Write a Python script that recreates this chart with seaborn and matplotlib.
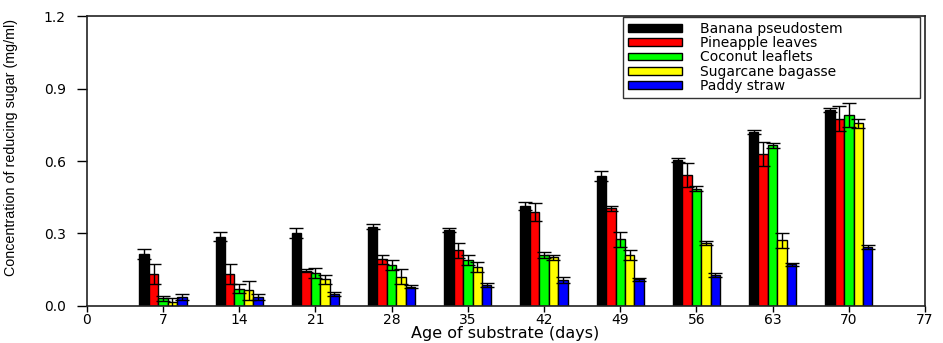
import matplotlib
matplotlib.use("Agg")
import matplotlib.pyplot as plt
import seaborn as sns
import pandas as pd
import numpy as np

days = [7, 14, 21, 28, 35, 42, 49, 56, 63, 70]
substrates = ["Banana pseudostem", "Pineapple leaves", "Coconut leaflets",
              "Sugarcane bagasse", "Paddy straw"]
colors = ["#000000", "#ff0000", "#00ff00", "#ffff00", "#0000ff"]

banana = [0.215, 0.287, 0.303, 0.328, 0.314, 0.414, 0.539, 0.604, 0.720, 0.811]
pineapple = [0.132, 0.132, 0.146, 0.193, 0.230, 0.388, 0.404, 0.543, 0.628, 0.776]
coconut = [0.032, 0.072, 0.136, 0.170, 0.190, 0.210, 0.276, 0.485, 0.665, 0.790]
sugarcane = [0.015, 0.065, 0.110, 0.121, 0.161, 0.201, 0.211, 0.261, 0.272, 0.756]
paddy = [0.037, 0.037, 0.050, 0.080, 0.087, 0.108, 0.110, 0.127, 0.172, 0.244]

banana_err = [0.02, 0.018, 0.02, 0.01, 0.008, 0.018, 0.02, 0.008, 0.01, 0.01]
pineapple_err = [0.04, 0.04, 0.005, 0.02, 0.03, 0.037, 0.01, 0.05, 0.05, 0.05]
coconut_err = [0.011, 0.02, 0.02, 0.02, 0.02, 0.012, 0.03, 0.01, 0.01, 0.05]
sugarcane_err = [0.02, 0.04, 0.02, 0.03, 0.022, 0.011, 0.02, 0.01, 0.03, 0.02]
paddy_err = [0.012, 0.012, 0.008, 0.006, 0.008, 0.011, 0.006, 0.008, 0.006, 0.007]

values = [banana, pineapple, coconut, sugarcane, paddy]
errors = [banana_err, pineapple_err, coconut_err, sugarcane_err, paddy_err]

rows = []
for s, vals in zip(substrates, values):
    for d, v in zip(days, vals):
        rows.append({"day": d, "substrate": s, "value": v})
df = pd.DataFrame(rows)

sns.set_style("ticks")
plt.rcParams["font.family"] = ["DejaVu Sans"]
plt.rcParams["text.color"] = "black"
plt.rcParams["axes.labelcolor"] = "black"
plt.rcParams["xtick.color"] = "black"
plt.rcParams["ytick.color"] = "black"

fig = plt.figure(figsize=(9.43, 3.43), dpi=100)
ax = fig.add_axes([0.092, 0.108, 0.889, 0.845])

sns.barplot(data=df, x="day", y="value", hue="substrate", hue_order=substrates,
            palette=colors, native_scale=True, width=0.62, errorbar=None,
            edgecolor="black", linewidth=1.0, saturation=1, ax=ax)

for cont, errs in zip(ax.containers, errors):
    xs = [p.get_x() + p.get_width() / 2 for p in cont.patches]
    hs = [p.get_height() for p in cont.patches]
    ax.errorbar(xs, hs, yerr=errs, fmt="none", ecolor="black", elinewidth=1.0,
                capsize=5, capthick=1.0, zorder=3)

ax.set_xlim(0, 77)
ax.set_ylim(0, 1.2)
ax.set_xticks(np.arange(0, 78, 7))
ax.set_yticks([0.0, 0.3, 0.6, 0.9, 1.2])
ax.set_yticklabels(["0.0", "0.3", "0.6", "0.9", "1.2"])
ax.tick_params(axis="both", direction="out", width=1, labelsize=10)
ax.tick_params(axis="y", length=7, pad=8)
ax.tick_params(axis="x", length=4, pad=1)
for sp in ax.spines.values():
    sp.set_visible(True)
    sp.set_linewidth(1.2)
    sp.set_color("#222222")

ax.set_xlabel("Age of substrate (days)", fontsize=11.5)
ax.xaxis.set_label_coords(0.499, -0.070)
ax.set_ylabel("Concentration of reducing sugar (mg/ml)", fontsize=10.3,
              family=["Liberation Sans Narrow", "Liberation Sans", "DejaVu Sans"])
ax.yaxis.set_label_coords(-0.082, 0.548)

handles, labels = ax.get_legend_handles_labels()
leg = ax.legend(handles, labels, loc="upper left",
                bbox_to_anchor=(0.64, 0.728, 0.354, 0.269), mode="expand",
                fontsize=10, frameon=True, fancybox=False, edgecolor="black",
                handlelength=3.9, handleheight=0.5, labelspacing=0.02,
                borderpad=0.35, borderaxespad=0.0, handletextpad=1.3)
leg.get_frame().set_linewidth(1.0)
for t in leg.get_texts():
    t.set_color("black")

fig.savefig("out.png", dpi=100)
